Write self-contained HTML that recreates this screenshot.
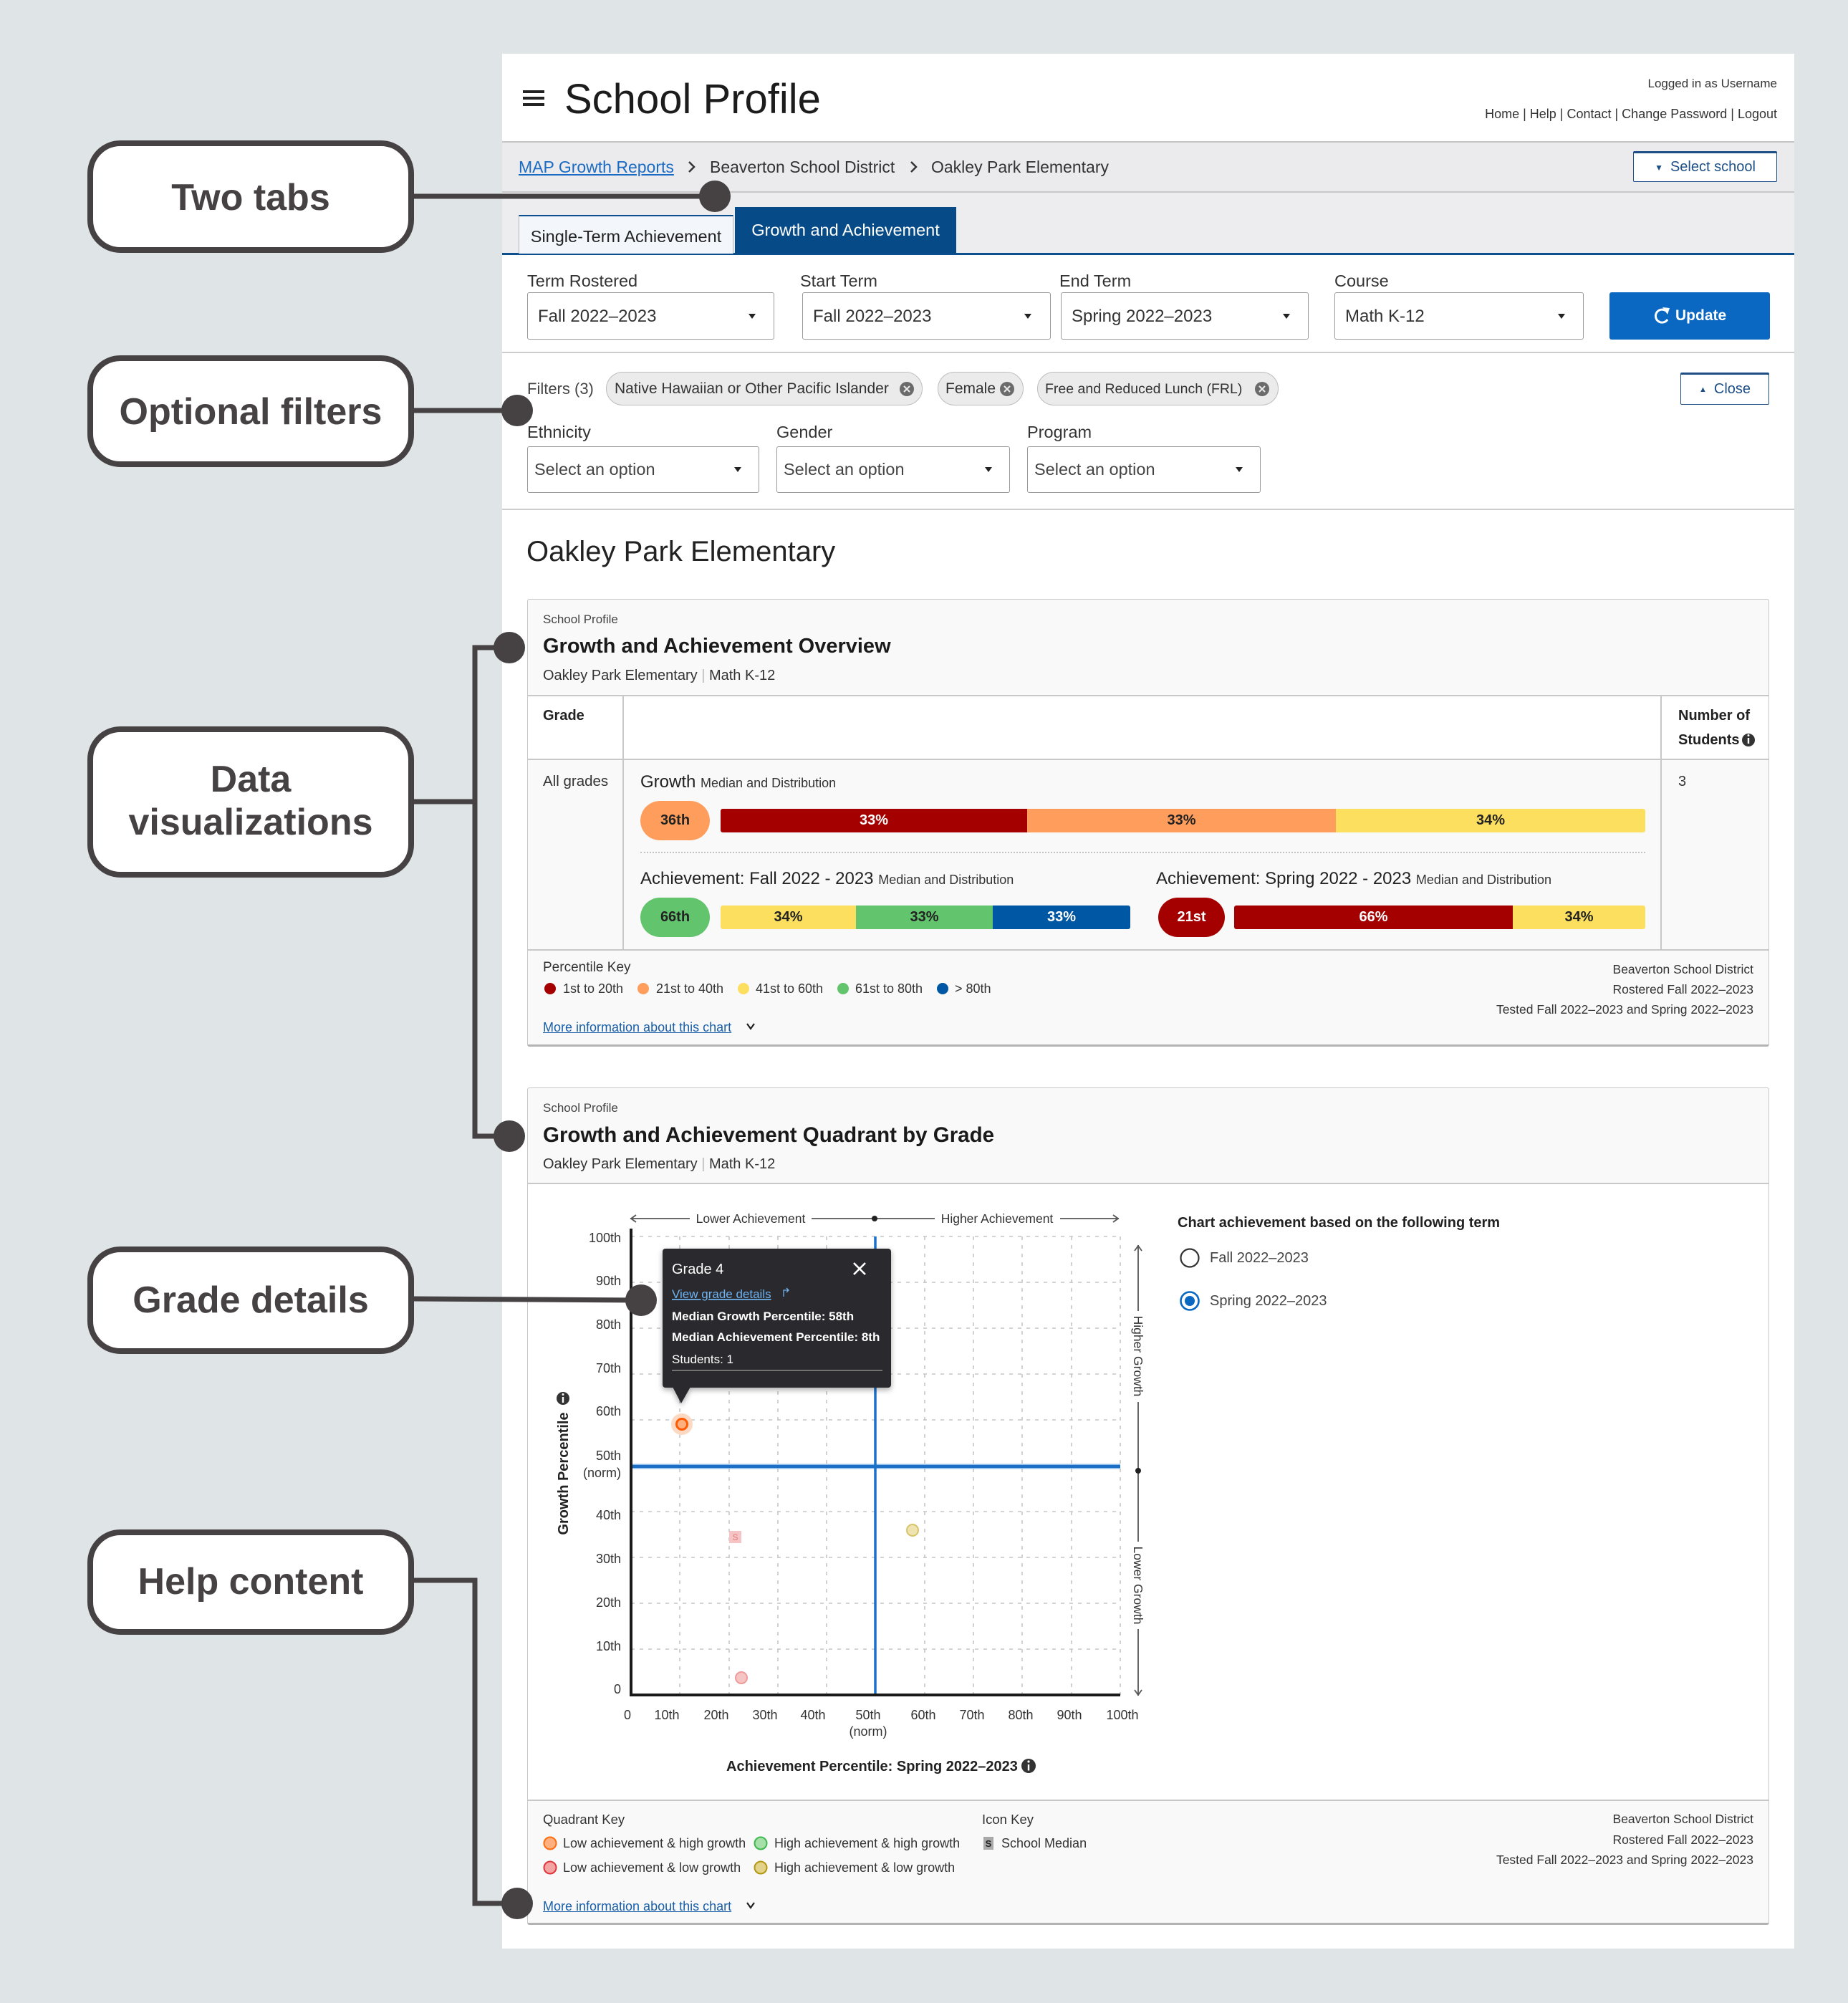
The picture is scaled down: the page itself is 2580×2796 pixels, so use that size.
<!DOCTYPE html>
<html><head><meta charset="utf-8">
<style>
*{box-sizing:border-box;margin:0;padding:0}
html,body{width:2580px;height:2796px;overflow:hidden}
body{background:#dfe4e7;position:relative;font-family:"Liberation Sans",Arial,sans-serif;color:#333}
.a{position:absolute}
.t{position:absolute;white-space:nowrap;line-height:40px}
.sel{position:absolute;border:1.5px solid #9a9a9a;border-radius:3px;background:#fff}
.fc{display:flex;align-items:center;justify-content:center}
.seg{position:absolute;top:0;height:100%;display:flex;align-items:center;justify-content:center;font-weight:bold;font-size:20px}
.lnk{color:#1a5fa8;text-decoration:underline}
</style></head><body>

<!-- main panel -->
<div class="a" style="left:701px;top:75px;width:1804px;height:2645px;background:#fff"></div>
<div class="a" style="left:701px;top:197px;width:1804px;height:2px;background:#c4c4c4"></div>
<div class="a" style="left:701px;top:199px;width:1804px;height:68px;background:#ebebed"></div>
<div class="a" style="left:701px;top:267px;width:1804px;height:2px;background:#c8c8c8"></div>
<div class="a" style="left:701px;top:269px;width:1804px;height:84px;background:#ededef"></div>
<div class="a" style="left:701px;top:353px;width:1804px;height:3px;background:#0b4f8f"></div>

<!-- header -->
<div class="a" style="left:730px;top:126px;width:30px;height:4px;background:#222"></div>
<div class="a" style="left:730px;top:135px;width:30px;height:4px;background:#222"></div>
<div class="a" style="left:730px;top:144px;width:30px;height:4px;background:#222"></div>
<div class="t" style="left:788px;top:104px;font-size:58px;line-height:70px;color:#1c1c1c">School Profile</div>
<div class="t" style="right:99px;top:97px;font-size:17px;color:#333">Logged in as Username</div>
<div class="t" style="right:99px;top:139px;font-size:18px;color:#333">Home | Help | Contact | Change Password | Logout</div>

<!-- breadcrumb -->
<div class="t lnk" style="left:724px;top:213px;font-size:23px;color:#1a6bc4">MAP Growth Reports</div>
<div class="t" style="left:991px;top:213px;font-size:23px;color:#333">Beaverton School District</div>
<div class="t" style="left:1300px;top:213px;font-size:23px;color:#333">Oakley Park Elementary</div>
<div class="a fc" style="left:2280px;top:211px;width:201px;height:43px;background:#fff;border:1.5px solid #1d4f86;border-top:3px solid #1d4f86;border-radius:2px;font-size:20px;color:#1d4f86;white-space:nowrap"><span style="font-size:12px;margin-right:10px">&#9660;</span>Select school</div>

<!-- tabs -->
<div class="a fc" style="left:724px;top:300px;width:300px;height:54px;background:#f3f7fb;border-top:2px solid #0b4f8f;border-left:1px solid #b8b8b8;border-right:1px solid #b8b8b8;font-size:23.5px;color:#222;white-space:nowrap;padding-top:4px">Single-Term Achievement</div>
<div class="a fc" style="left:1026px;top:289px;width:309px;height:65px;background:#064b87;font-size:23.5px;color:#fff;white-space:nowrap">Growth and Achievement</div>

<!-- term selects -->
<div class="t" style="left:736px;top:372px;font-size:23.5px">Term Rostered</div>
<div class="t" style="left:1117px;top:372px;font-size:23.5px">Start Term</div>
<div class="t" style="left:1479px;top:372px;font-size:23.5px">End Term</div>
<div class="t" style="left:1863px;top:372px;font-size:23.5px">Course</div>
<div class="sel" style="left:736px;top:408px;width:345px;height:66px"></div>
<div class="sel" style="left:1120px;top:408px;width:347px;height:66px"></div>
<div class="sel" style="left:1481px;top:408px;width:346px;height:66px"></div>
<div class="sel" style="left:1863px;top:408px;width:348px;height:66px"></div>
<div class="t" style="left:751px;top:422px;font-size:24px;color:#333">Fall 2022–2023</div>
<div class="t" style="left:1135px;top:422px;font-size:24px;color:#333">Fall 2022–2023</div>
<div class="t" style="left:1496px;top:422px;font-size:24px;color:#333">Spring 2022–2023</div>
<div class="t" style="left:1878px;top:422px;font-size:24px;color:#333">Math K-12</div>
<div class="a" style="left:2247px;top:408px;width:224px;height:66px;background:#0a67c2;border-radius:3px"></div>
<div class="t" style="left:2339px;top:421px;font-size:21px;color:#fff;font-weight:bold">Update</div>

<div class="a" style="left:701px;top:491px;width:1804px;height:2px;background:#cdcdcd"></div>

<!-- filters -->
<div class="t" style="left:736px;top:523px;font-size:22px;color:#444">Filters (3)</div>
<div class="a" style="left:846px;top:519px;width:442px;height:47px;background:#ebebeb;border:1.5px solid #bdbdbd;border-radius:24px"></div>
<div class="a" style="left:1309px;top:519px;width:120px;height:47px;background:#ebebeb;border:1.5px solid #bdbdbd;border-radius:24px"></div>
<div class="a" style="left:1448px;top:519px;width:337px;height:47px;background:#ebebeb;border:1.5px solid #bdbdbd;border-radius:24px"></div>
<div class="t" style="left:858px;top:523px;font-size:21px;color:#333">Native Hawaiian or Other Pacific Islander</div>
<div class="t" style="left:1320px;top:523px;font-size:21px;color:#333">Female</div>
<div class="t" style="left:1459px;top:523px;font-size:19.5px;color:#333">Free and Reduced Lunch (FRL)</div>
<div class="a fc" style="left:2346px;top:520px;width:124px;height:45px;background:#fff;border:1.5px solid #1d4f86;border-top:3px solid #1d4f86;border-radius:2px;font-size:20px;color:#1d4f86;white-space:nowrap"><span style="font-size:11px;margin-right:10px">&#9650;</span>Close</div>

<div class="t" style="left:736px;top:583px;font-size:23.5px">Ethnicity</div>
<div class="t" style="left:1084px;top:583px;font-size:23.5px">Gender</div>
<div class="t" style="left:1434px;top:583px;font-size:23.5px">Program</div>
<div class="sel" style="left:736px;top:623px;width:324px;height:65px"></div>
<div class="sel" style="left:1084px;top:623px;width:326px;height:65px"></div>
<div class="sel" style="left:1434px;top:623px;width:326px;height:65px"></div>
<div class="t" style="left:746px;top:635px;font-size:23.5px;color:#444">Select an option</div>
<div class="t" style="left:1094px;top:635px;font-size:23.5px;color:#444">Select an option</div>
<div class="t" style="left:1444px;top:635px;font-size:23.5px;color:#444">Select an option</div>

<div class="a" style="left:701px;top:710px;width:1804px;height:2px;background:#cdcdcd"></div>

<div class="t" style="left:735px;top:745px;font-size:40px;line-height:50px;color:#222">Oakley Park Elementary</div>

<!-- CARD 1 -->
<div class="a" style="left:736px;top:836px;width:1734px;height:625px;background:#f9f9f9;border:1.5px solid #c8c8c8;border-bottom:3px solid #b3b3b3;border-radius:3px"></div>
<div class="a" style="left:737px;top:971px;width:1732px;height:89px;background:#fff"></div>
<div class="a" style="left:737px;top:970px;width:1732px;height:1.5px;background:#c8c8c8"></div>
<div class="a" style="left:737px;top:1059px;width:1732px;height:1.5px;background:#c8c8c8"></div>
<div class="a" style="left:737px;top:1325px;width:1732px;height:1.5px;background:#c8c8c8"></div>
<div class="a" style="left:869px;top:971px;width:1.5px;height:354px;background:#c8c8c8"></div>
<div class="a" style="left:2318px;top:971px;width:1.5px;height:354px;background:#c8c8c8"></div>

<div class="t" style="left:758px;top:845px;font-size:17px;color:#444">School Profile</div>
<div class="t" style="left:758px;top:882px;font-size:29px;font-weight:bold;color:#1a1a1a">Growth and Achievement Overview</div>
<div class="t" style="left:758px;top:923px;font-size:20px;color:#333">Oakley Park Elementary <span style="color:#bbb">|</span> Math K-12</div>
<div class="t" style="left:758px;top:979px;font-size:20px;font-weight:bold;color:#222">Grade</div>
<div class="t" style="left:2343px;top:979px;font-size:20px;font-weight:bold;color:#222">Number of</div>
<div class="t" style="left:2343px;top:1013px;font-size:20px;font-weight:bold;color:#222">Students</div>
<div class="t" style="left:758px;top:1071px;font-size:20.5px;color:#333">All grades</div>
<div class="t" style="left:2343px;top:1071px;font-size:20px;color:#333">3</div>

<div class="t" style="left:894px;top:1072px;font-size:24px;color:#222">Growth <span style="font-size:18px;color:#333">Median and Distribution</span></div>
<div class="a fc" style="left:894px;top:1118px;width:97px;height:55px;border-radius:28px;background:#ff9e5c;font-weight:bold;font-size:20px;color:#222">36th</div>
<div class="a" style="left:1006px;top:1129px;width:1291px;height:33px;border-radius:3px;overflow:hidden">
  <div class="seg" style="left:0;width:428px;background:#a50000;color:#fff">33%</div>
  <div class="seg" style="left:428px;width:431px;background:#ff9e5c;color:#222">33%</div>
  <div class="seg" style="left:859px;width:432px;background:#fddf5f;color:#222">34%</div>
</div>
<div class="a" style="left:894px;top:1189px;width:1403px;height:0;border-top:2px dotted #c4c4c4"></div>

<div class="t" style="left:894px;top:1207px;font-size:24px;color:#222">Achievement: Fall 2022 - 2023 <span style="font-size:18px;color:#333">Median and Distribution</span></div>
<div class="t" style="left:1614px;top:1207px;font-size:24px;color:#222">Achievement: Spring 2022 - 2023 <span style="font-size:18px;color:#333">Median and Distribution</span></div>
<div class="a fc" style="left:894px;top:1253px;width:97px;height:55px;border-radius:28px;background:#62c46c;font-weight:bold;font-size:20px;color:#222">66th</div>
<div class="a" style="left:1006px;top:1264px;width:572px;height:33px;border-radius:3px;overflow:hidden">
  <div class="seg" style="left:0;width:189px;background:#fddf5f;color:#222">34%</div>
  <div class="seg" style="left:189px;width:191px;background:#62c46c;color:#222">33%</div>
  <div class="seg" style="left:380px;width:192px;background:#0057a3;color:#fff">33%</div>
</div>
<div class="a fc" style="left:1617px;top:1253px;width:93px;height:55px;border-radius:28px;background:#a50000;font-weight:bold;font-size:20px;color:#fff">21st</div>
<div class="a" style="left:1723px;top:1264px;width:574px;height:33px;border-radius:3px;overflow:hidden">
  <div class="seg" style="left:0;width:389px;background:#a50000;color:#fff">66%</div>
  <div class="seg" style="left:389px;width:185px;background:#fddf5f;color:#222">34%</div>
</div>

<div class="t" style="left:758px;top:1331px;font-size:19px;color:#333">Percentile Key</div>
<div class="t" style="left:786px;top:1360px;font-size:18px;color:#333">1st to 20th</div>
<div class="t" style="left:916px;top:1360px;font-size:18px;color:#333">21st to 40th</div>
<div class="t" style="left:1055px;top:1360px;font-size:18px;color:#333">41st to 60th</div>
<div class="t" style="left:1194px;top:1360px;font-size:18px;color:#333">61st to 80th</div>
<div class="t" style="left:1333px;top:1360px;font-size:18px;color:#333">&gt; 80th</div>
<div class="t" style="right:132px;top:1333px;font-size:17.5px;color:#333">Beaverton School District</div>
<div class="t" style="right:132px;top:1361px;font-size:17.5px;color:#333">Rostered Fall 2022–2023</div>
<div class="t" style="right:132px;top:1389px;font-size:17.5px;color:#333">Tested Fall 2022–2023 and Spring 2022–2023</div>
<div class="t lnk" style="left:758px;top:1414px;font-size:18px">More information about this chart</div>

<!-- CARD 2 -->
<div class="a" style="left:736px;top:1518px;width:1734px;height:1169px;background:#f9f9f9;border:1.5px solid #c8c8c8;border-bottom:3px solid #b3b3b3;border-radius:3px"></div>
<div class="a" style="left:737px;top:1652px;width:1732px;height:861px;background:#fff"></div>
<div class="a" style="left:737px;top:1651px;width:1732px;height:1.5px;background:#c8c8c8"></div>
<div class="a" style="left:737px;top:2512px;width:1732px;height:1.5px;background:#c8c8c8"></div>

<div class="t" style="left:758px;top:1527px;font-size:17px;color:#444">School Profile</div>
<div class="t" style="left:758px;top:1565px;font-size:29.5px;font-weight:bold;color:#1a1a1a">Growth and Achievement Quadrant by Grade</div>
<div class="t" style="left:758px;top:1605px;font-size:20px;color:#333">Oakley Park Elementary <span style="color:#bbb">|</span> Math K-12</div>

<div class="t" style="left:1644px;top:1687px;font-size:20px;font-weight:bold;color:#222">Chart achievement based on the following term</div>
<div class="t" style="left:1689px;top:1736px;font-size:20px;color:#444">Fall 2022–2023</div>
<div class="t" style="left:1689px;top:1796px;font-size:20px;color:#444">Spring 2022–2023</div>

<div class="t" style="left:758px;top:2520px;font-size:18.5px;color:#333">Quadrant Key</div>
<div class="t" style="left:1371px;top:2520px;font-size:18.5px;color:#333">Icon Key</div>
<div class="t" style="left:786px;top:2553px;font-size:18px;color:#333">Low achievement &amp; high growth</div>
<div class="t" style="left:1081px;top:2553px;font-size:18px;color:#333">High achievement &amp; high growth</div>
<div class="t" style="left:1398px;top:2553px;font-size:18px;color:#333">School Median</div>
<div class="t" style="left:786px;top:2587px;font-size:18px;color:#333">Low achievement &amp; low growth</div>
<div class="t" style="left:1081px;top:2587px;font-size:18px;color:#333">High achievement &amp; low growth</div>
<div class="t" style="right:132px;top:2519px;font-size:17.5px;color:#333">Beaverton School District</div>
<div class="t" style="right:132px;top:2548px;font-size:17.5px;color:#333">Rostered Fall 2022–2023</div>
<div class="t" style="right:132px;top:2576px;font-size:17.5px;color:#333">Tested Fall 2022–2023 and Spring 2022–2023</div>
<div class="t lnk" style="left:758px;top:2641px;font-size:18px">More information about this chart</div>

<!-- SVG overlay -->
<svg class="a" style="left:0;top:0" width="2580" height="2796" viewBox="0 0 2580 2796" xmlns="http://www.w3.org/2000/svg" font-family="Liberation Sans, Arial, sans-serif">
<defs>
  <filter id="sh" x="-10%" y="-10%" width="120%" height="130%"><feDropShadow dx="0" dy="3" stdDeviation="4" flood-color="#000" flood-opacity="0.35"/></filter>
</defs>

<!-- breadcrumb chevrons -->
<polyline points="962,226 969,233 962,240" fill="none" stroke="#333" stroke-width="2.5"/>
<polyline points="1272,226 1279,233 1272,240" fill="none" stroke="#333" stroke-width="2.5"/>

<!-- select arrows -->
<g fill="#222">
<polygon points="1045,438 1055,438 1050,445"/>
<polygon points="1430,438 1440,438 1435,445"/>
<polygon points="1791,438 1801,438 1796,445"/>
<polygon points="2175,438 2185,438 2180,445"/>
<polygon points="1025,652 1035,652 1030,659"/>
<polygon points="1375,652 1385,652 1380,659"/>
<polygon points="1725,652 1735,652 1730,659"/>
</g>
<!-- update icon -->
<path d="M2326,434 A9,9 0 1 0 2328,446" fill="none" stroke="#fff" stroke-width="3"/>
<polygon points="2321,429 2331,430 2328,439" fill="#fff"/>

<!-- chip close icons -->
<g>
<circle cx="1266" cy="543" r="10" fill="#6b6b6b"/><path d="M1262,539 L1270,547 M1270,539 L1262,547" stroke="#ebebeb" stroke-width="2"/>
<circle cx="1406" cy="543" r="10" fill="#6b6b6b"/><path d="M1402,539 L1410,547 M1410,539 L1402,547" stroke="#ebebeb" stroke-width="2"/>
<circle cx="1762" cy="543" r="10" fill="#6b6b6b"/><path d="M1758,539 L1766,547 M1766,539 L1758,547" stroke="#ebebeb" stroke-width="2"/>
</g>

<!-- students info icon -->
<circle cx="2441" cy="1033" r="9" fill="#333"/><rect x="2439.8" y="1030" width="2.4" height="8" fill="#fff"/><circle cx="2441" cy="1026.5" r="1.5" fill="#fff"/>

<!-- percentile key dots -->
<circle cx="768" cy="1380" r="8" fill="#a50000"/>
<circle cx="898" cy="1380" r="8" fill="#ff9e5c"/>
<circle cx="1038" cy="1380" r="8" fill="#fddf5f"/>
<circle cx="1177" cy="1380" r="8" fill="#62c46c"/>
<circle cx="1316" cy="1380" r="8" fill="#0057a3"/>
<polyline points="1043,1429 1048,1436 1053,1429" fill="none" stroke="#222" stroke-width="2.2"/>
<polyline points="1043,2656 1048,2663 1053,2656" fill="none" stroke="#222" stroke-width="2.2"/>

<!-- quadrant key -->
<circle cx="768" cy="2573" r="8.5" fill="#ffb07f" stroke="#ff6b0f" stroke-width="2"/>
<circle cx="1062" cy="2573" r="8.5" fill="#a6dfa8" stroke="#3db84e" stroke-width="2"/>
<circle cx="768" cy="2607" r="8.5" fill="#f4a3a3" stroke="#e2343c" stroke-width="2"/>
<circle cx="1062" cy="2607" r="8.5" fill="#e3d38a" stroke="#b3970f" stroke-width="2"/>
<rect x="1373" y="2564" width="14" height="18" fill="#a9a9a9"/>
<text x="1380" y="2578" font-size="13" font-weight="bold" fill="#222" text-anchor="middle">S</text>

<!-- radios -->
<circle cx="1661" cy="1756" r="12.5" fill="#fff" stroke="#333" stroke-width="2.2"/>
<circle cx="1661" cy="1816" r="12.5" fill="#fff" stroke="#0a67c2" stroke-width="2.6"/>
<circle cx="1661" cy="1816" r="7" fill="#0a67c2"/>

<!-- ===== chart grid ===== -->
<g stroke="#c6c6c6" stroke-width="1.6" stroke-dasharray="5 7" fill="none">
<line x1="881" y1="2302" x2="1564" y2="2302"/>
<line x1="881" y1="2238" x2="1564" y2="2238"/>
<line x1="881" y1="2174" x2="1564" y2="2174"/>
<line x1="881" y1="2110" x2="1564" y2="2110"/>
<line x1="881" y1="1982" x2="1564" y2="1982"/>
<line x1="881" y1="1918" x2="1564" y2="1918"/>
<line x1="881" y1="1854" x2="1564" y2="1854"/>
<line x1="881" y1="1790" x2="1564" y2="1790"/>
<line x1="881" y1="1726" x2="1564" y2="1726"/>
<line x1="949" y1="1726" x2="949" y2="2366"/>
<line x1="1018" y1="1726" x2="1018" y2="2366"/>
<line x1="1086" y1="1726" x2="1086" y2="2366"/>
<line x1="1154" y1="1726" x2="1154" y2="2366"/>
<line x1="1291" y1="1726" x2="1291" y2="2366"/>
<line x1="1359" y1="1726" x2="1359" y2="2366"/>
<line x1="1427" y1="1726" x2="1427" y2="2366"/>
<line x1="1496" y1="1726" x2="1496" y2="2366"/>
<line x1="1564" y1="1726" x2="1564" y2="2366"/>
</g>
<!-- blue quadrant lines -->
<line x1="881" y1="2047" x2="1564" y2="2047" stroke="#8dbbe8" stroke-width="7"/>
<line x1="881" y1="2047" x2="1564" y2="2047" stroke="#1b6fc6" stroke-width="4"/>
<line x1="1222" y1="1726" x2="1222" y2="2368" stroke="#1b70c9" stroke-width="3.5"/>
<!-- axes -->
<line x1="881" y1="1715" x2="881" y2="2368" stroke="#1a1a1a" stroke-width="4"/>
<line x1="879" y1="2366" x2="1564" y2="2366" stroke="#1a1a1a" stroke-width="4"/>

<!-- y tick labels -->
<g font-size="18" fill="#333" text-anchor="end">
<text x="867" y="1734">100th</text>
<text x="867" y="1794">90th</text>
<text x="867" y="1855">80th</text>
<text x="867" y="1916">70th</text>
<text x="867" y="1976">60th</text>
<text x="867" y="2038">50th</text>
<text x="867" y="2062">(norm)</text>
<text x="867" y="2121">40th</text>
<text x="867" y="2182">30th</text>
<text x="867" y="2243">20th</text>
<text x="867" y="2304">10th</text>
<text x="867" y="2364">0</text>
</g>
<!-- x tick labels -->
<g font-size="18" fill="#333" text-anchor="middle">
<text x="876" y="2400">0</text>
<text x="931" y="2400">10th</text>
<text x="1000" y="2400">20th</text>
<text x="1068" y="2400">30th</text>
<text x="1135" y="2400">40th</text>
<text x="1212" y="2400">50th</text>
<text x="1212" y="2423">(norm)</text>
<text x="1289" y="2400">60th</text>
<text x="1357" y="2400">70th</text>
<text x="1425" y="2400">80th</text>
<text x="1493" y="2400">90th</text>
<text x="1567" y="2400">100th</text>
</g>

<!-- top achievement arrow -->
<g stroke="#555" stroke-width="1.8" fill="none">
<line x1="880" y1="1701" x2="963" y2="1701"/>
<line x1="1133" y1="1701" x2="1305" y2="1701"/>
<line x1="1480" y1="1701" x2="1562" y2="1701"/>
<polyline points="888,1696 881,1701 888,1706"/>
<polyline points="1554,1696 1561,1701 1554,1706"/>
</g>
<circle cx="1221" cy="1701" r="4" fill="#222"/>
<text x="1048" y="1707" font-size="17.5" fill="#333" text-anchor="middle">Lower Achievement</text>
<text x="1392" y="1707" font-size="17.5" fill="#333" text-anchor="middle">Higher Achievement</text>

<!-- right growth arrow -->
<g stroke="#555" stroke-width="1.8" fill="none">
<line x1="1589" y1="1738" x2="1589" y2="1830"/>
<line x1="1589" y1="1957" x2="1589" y2="2152"/>
<line x1="1589" y1="2274" x2="1589" y2="2367"/>
<polyline points="1584,1746 1589,1739 1594,1746"/>
<polyline points="1584,2359 1589,2366 1594,2359"/>
</g>
<circle cx="1589" cy="2053" r="4" fill="#222"/>
<text transform="translate(1589,1893) rotate(90)" y="6" font-size="17.5" fill="#333" text-anchor="middle">Higher Growth</text>
<text transform="translate(1589,2213) rotate(90)" y="6" font-size="17.5" fill="#333" text-anchor="middle">Lower Growth</text>

<!-- axis titles -->
<text transform="translate(786,2057) rotate(-90)" y="7" font-size="20" font-weight="bold" fill="#222" text-anchor="middle">Growth Percentile</text>
<circle cx="786" cy="1952" r="9" fill="#333"/><rect x="784.8" y="1950" width="2.4" height="8" fill="#fff"/><circle cx="786" cy="1946.5" r="1.5" fill="#fff"/>
<text x="1014" y="2472" font-size="20" font-weight="bold" fill="#222">Achievement Percentile: Spring 2022–2023</text>
<circle cx="1436" cy="2465" r="10" fill="#333"/><rect x="1434.8" y="2463" width="2.4" height="8.5" fill="#fff"/><circle cx="1436" cy="2459" r="1.6" fill="#fff"/>

<!-- data points -->
<rect x="1018" y="2137" width="17" height="17" fill="#f6c4c4"/>
<text x="1026.5" y="2150" font-size="12" fill="#e07a7a" text-anchor="middle">S</text>
<circle cx="1274" cy="2136" r="8" fill="#efe3b0" stroke="#d6c36a" stroke-width="2"/>
<circle cx="1035" cy="2342" r="8" fill="#f7c4c4" stroke="#ee9a9a" stroke-width="2"/>
<circle cx="952" cy="1988" r="15" fill="#fcd9c3"/>
<circle cx="952" cy="1988" r="7.5" fill="#ffb07f" stroke="#ff5a00" stroke-width="3"/>

<!-- tooltip -->
<g filter="url(#sh)">
<rect x="925" y="1743" width="319" height="194" rx="4" fill="#2b2b2d"/>
<polygon points="939,1936 964,1936 951,1959" fill="#2b2b2d"/>
</g>
<text x="938" y="1778" font-size="20" fill="#fff">Grade 4</text>
<path d="M1192,1763 L1208,1779 M1208,1763 L1192,1779" stroke="#fff" stroke-width="2.6"/>
<text x="938" y="1812" font-size="17" fill="#6fb2f0" text-decoration="underline">View grade details</text>
<path d="M1094,1810 L1094,1801 L1101,1801 M1098,1798 L1101,1801 L1098,1804" stroke="#6fb2f0" stroke-width="1.3" fill="none"/>
<text x="938" y="1843" font-size="17" font-weight="bold" fill="#fff">Median Growth Percentile: 58th</text>
<text x="938" y="1872" font-size="17" font-weight="bold" fill="#fff">Median Achievement Percentile: 8th</text>
<text x="938" y="1903" font-size="17" fill="#fff">Students: 1</text>
<line x1="938" y1="1913" x2="1232" y2="1913" stroke="#8a8a8a" stroke-width="1.5"/>

<!-- ===== callouts ===== -->
<g stroke="#464243" stroke-width="7" fill="none">
<line x1="578" y1="274" x2="998" y2="274"/>
<line x1="578" y1="573" x2="722" y2="573"/>
<line x1="578" y1="1119" x2="663" y2="1119"/>
<polyline points="711,904 663,904 663,1586 711,1586"/>
<line x1="578" y1="1813" x2="895" y2="1815"/>
<polyline points="578,2206 663,2206 663,2657 722,2657"/>
</g>
<g fill="#fff" stroke="#464243" stroke-width="8">
<rect x="126" y="200" width="448" height="149" rx="42"/>
<rect x="126" y="500" width="448" height="148" rx="42"/>
<rect x="126" y="1018" width="448" height="203" rx="42"/>
<rect x="126" y="1744" width="448" height="142" rx="42"/>
<rect x="126" y="2139" width="448" height="139" rx="42"/>
</g>
<g fill="#464243">
<circle cx="998" cy="274" r="22"/>
<circle cx="722" cy="573" r="22"/>
<circle cx="711" cy="904" r="22"/>
<circle cx="711" cy="1586" r="22"/>
<circle cx="895" cy="1815" r="22"/>
<circle cx="722" cy="2657" r="22"/>
</g>
<g font-size="52" font-weight="bold" fill="#464243" text-anchor="middle">
<text x="350" y="293">Two tabs</text>
<text x="350" y="592">Optional filters</text>
<text x="350" y="1105">Data</text>
<text x="350" y="1165">visualizations</text>
<text x="350" y="1832">Grade details</text>
<text x="350" y="2225">Help content</text>
</g>
</svg>
</body></html>
